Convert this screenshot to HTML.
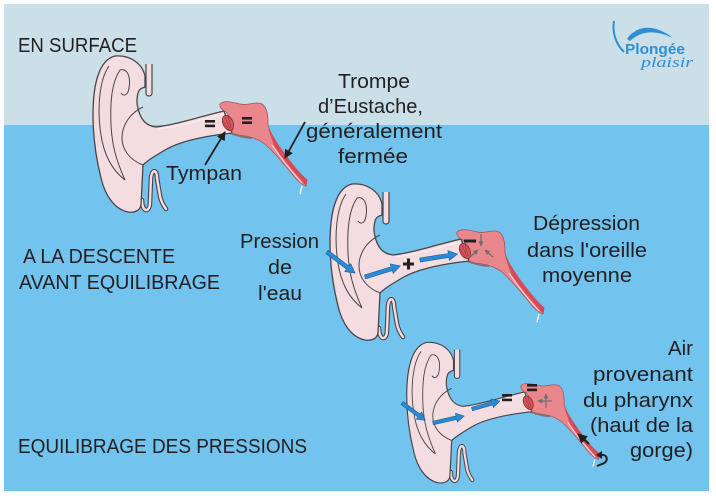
<!DOCTYPE html>
<html>
<head>
<meta charset="utf-8">
<style>
  html,body{margin:0;padding:0;background:#fff;}
  svg{display:block;}
  .t{font-family:"Liberation Sans",Arial,sans-serif;font-size:20px;fill:#231f20;}
</style>
</head>
<body>
<svg width="716" height="498" viewBox="0 0 716 498" xmlns="http://www.w3.org/2000/svg">
  <defs>
    <marker id="ah" viewBox="0 0 10 10" refX="9" refY="5" markerWidth="5" markerHeight="5" orient="auto">
      <path d="M0,0 L10,5 L0,10 Z" fill="#231f20"/>
    </marker>
    <marker id="ahg" viewBox="0 0 10 10" refX="9" refY="5" markerWidth="4" markerHeight="4" orient="auto">
      <path d="M0,0 L10,5 L0,10 Z" fill="#6d6d6d"/>
    </marker>
    <g id="ear">
      <!-- lower hook -->
      <path d="M142,200 C142,213 150,213 150,202 L151,178 C152,169 157,169 157,178 L160,196 C161,201 163,205 166,209" fill="none" stroke="#4a4446" stroke-width="4.6" stroke-linecap="round"/>
      <path d="M142,200 C142,213 150,213 150,202 L151,178 C152,169 157,169 157,178 L160,196 C161,201 163,205 166,209" fill="none" stroke="#f3dde0" stroke-width="2.4" stroke-linecap="round"/>
      <!-- top strip -->
      <path d="M146,64 L146,93 C146,97 152,97 152,93 L152,64" fill="#f3dde0" stroke="#4a4446" stroke-width="1.2"/>
      <!-- canal extension line -->
      <path d="M230,133 C238,136 245,138 252,138" fill="none" stroke="#777" stroke-width="2"/>
      <!-- auricle + canal -->
      <path d="M115,56 C130,55 142,63 145,76 L145,87 C142,88 139,89 138,93 C136,100 137,106 139,112 C142,121 147,126 156,127 C175,125 198,117 224,111 L232,133 C205,136 180,141 165,150 C155,156 148,160 143,165 L141,205 C140,211 134,213 128,212 C114,209 105,195 101,178 C97,162 93,140 93,115 C93,84 99,60 115,56 Z" fill="#f3dde0" stroke="#4a4446" stroke-width="1.3"/>
      <!-- canal inner light line -->
      <path d="M158,129 C178,127 200,120 224,114" fill="none" stroke="#fbeff1" stroke-width="1"/>
      <!-- inner lines -->
      <path d="M109,66 C99,80 97,110 101,135 C104,155 112,170 125,180 C116,160 112,145 111,125 C110,100 112,82 120,70" fill="none" stroke="#4a4446" stroke-width="1"/>
      <path d="M120,70 C127,68 131,76 129,88 C128,95 124,97 121,93" fill="none" stroke="#4a4446" stroke-width="1"/>
      <path d="M143,107 C130,113 122,125 122,138 C122,150 130,160 143,165" fill="none" stroke="#4a4446" stroke-width="1"/>
      <!-- middle ear -->
      <path d="M220,104 C224,100 232,102 240,104 C248,106 255,101 262,104 C268,108 268,118 268,125 C270,133 276,142 283,152 C290,162 298,172 307,180 L306,186 C300,184 295,178 289,170 C282,162 274,152 266,145 C258,138 248,136 238,135 L232,133 C233,125 230,117 226,112 C222,110 219,107 220,104 Z" fill="#e9878d" stroke="#a9525a" stroke-width="0.8"/>
      <path d="M268,128 C274,140 284,153 292,163 C298,171 303,176 307,180 L306,186 C302,181 298,177 294,172 C288,165 280,155 274,146 Z" fill="#d94a55"/>
      <path d="M272,145 C280,157 290,170 302,183" fill="none" stroke="#f7e6e8" stroke-width="0.9"/>
      <path d="M302,186 L300,194" stroke="#ffffff" stroke-width="1.5"/>
      <!-- tympan -->
      <ellipse cx="228" cy="123" rx="5" ry="8" transform="rotate(-25 228 123)" fill="#d9555f" stroke="#7a2a30" stroke-width="0.8"/>
      <path d="M225,117 L230,129 M228,116 L231,128 M223,121 L229,130" stroke="#7a2a30" stroke-width="0.5"/>
    </g>
  </defs>

  <!-- backgrounds -->
  <rect x="4" y="4" width="705" height="121" fill="#cbdfe9"/>
  <rect x="4" y="125" width="705" height="366" fill="#72c3ee"/>

  <!-- logo -->
  <path d="M614,21 C612,33 616,44 624,52" fill="none" stroke="#2f8fd6" stroke-width="2"/>
  <path d="M627,39 C634,28 651,21 673,38 C656,30 642,30 630,41 Z" fill="#2f8fd6"/>
  <text x="625" y="54" font-family="Liberation Sans,Arial,sans-serif" font-weight="bold" font-size="15" fill="#2f8fd6" textLength="60" lengthAdjust="spacingAndGlyphs">Plongée</text>
  <text x="641" y="67" font-family="Liberation Serif,serif" font-style="italic" font-size="15" fill="#2f8fd6" textLength="52" lengthAdjust="spacingAndGlyphs">plaisir</text>

  <!-- ears -->
  <use href="#ear"/>
  <use href="#ear" transform="translate(237,128)"/>
  <use href="#ear" transform="translate(323,292) scale(0.9)"/>

  <!-- ear 1 marks -->
  <rect x="205" y="120" width="10" height="2.6" fill="#231f20"/>
  <rect x="205" y="124.6" width="10" height="2.6" fill="#231f20"/>
  <rect x="242" y="117" width="10" height="2.6" fill="#231f20"/>
  <rect x="242" y="121.4" width="10" height="2.6" fill="#231f20"/>
  <line x1="205" y1="165" x2="225" y2="132" stroke="#231f20" stroke-width="1.8" marker-end="url(#ah)"/>
  <line x1="305" y1="122" x2="285" y2="158" stroke="#231f20" stroke-width="1.8" marker-end="url(#ah)"/>

  <!-- ear 2 marks -->
  <g fill="#2a8ad6" stroke="#1a5f9a" stroke-width="0.6">
    <path transform="translate(327,252) rotate(36.9)" d="M0,-2 L26,-2 L26,-5 L35,0 L26,5 L26,2 L0,2Z"/>
    <path transform="translate(365,277) rotate(-17.4)" d="M0,-2 L28,-2 L28,-5 L37,0 L28,5 L28,2 L0,2Z"/>
    <path transform="translate(420,260) rotate(-9)" d="M0,-2 L29,-2 L29,-5 L38,0 L29,5 L29,2 L0,2Z"/>
  </g>
  <rect x="403" y="262.5" width="11" height="3" fill="#231f20"/>
  <rect x="407" y="258.5" width="3" height="11" fill="#231f20"/>
  <rect x="464" y="239.5" width="12" height="3" fill="#231f20"/>
  <g stroke="#6d6d6d" stroke-width="1.3" fill="none">
    <line x1="481" y1="234" x2="481" y2="246" marker-end="url(#ahg)"/>
    <line x1="493" y1="257" x2="485" y2="250" marker-end="url(#ahg)"/>
    <line x1="470" y1="257" x2="478" y2="250" marker-end="url(#ahg)"/>
  </g>

  <!-- ear 3 marks -->
  <g fill="#2a8ad6" stroke="#1a5f9a" stroke-width="0.6">
    <path transform="translate(402,403) rotate(36.5)" d="M0,-1.8 L21,-1.8 L21,-4.5 L29,0 L21,4.5 L21,1.8 L0,1.8Z"/>
    <path transform="translate(433,423) rotate(-12.7)" d="M0,-1.8 L24,-1.8 L24,-4.5 L32,0 L24,4.5 L24,1.8 L0,1.8Z"/>
    <path transform="translate(472,409) rotate(-16)" d="M0,-1.8 L21,-1.8 L21,-4.5 L29,0 L21,4.5 L21,1.8 L0,1.8Z"/>
  </g>
  <rect x="502" y="394" width="10" height="2.6" fill="#231f20"/>
  <rect x="502" y="398.6" width="10" height="2.6" fill="#231f20"/>
  <rect x="527" y="384" width="10" height="2.6" fill="#231f20"/>
  <rect x="527" y="388.6" width="10" height="2.6" fill="#231f20"/>
  <g stroke="#6d6d6d" stroke-width="1.2" fill="none">
    <line x1="552" y1="401" x2="538" y2="401" marker-end="url(#ahg)"/>
    <line x1="546" y1="408" x2="546" y2="394" marker-end="url(#ahg)"/>
  </g>
  <line x1="589" y1="444" x2="578" y2="434" stroke="#231f20" stroke-width="2" marker-end="url(#ah)"/>
  <path d="M601,455 C608,454 609,462 602,464 L597,466" fill="none" stroke="#231f20" stroke-width="2"/>
  <path d="M596,455 L602,451 L602,459 Z" fill="#231f20"/>

  <!-- texts -->
  <text class="t" x="18" y="52" textLength="119" lengthAdjust="spacingAndGlyphs">EN SURFACE</text>
  <text class="t" x="23" y="263" textLength="152" lengthAdjust="spacingAndGlyphs">A LA DESCENTE</text>
  <text class="t" x="19" y="289" textLength="201" lengthAdjust="spacingAndGlyphs">AVANT EQUILIBRAGE</text>
  <text class="t" x="18" y="453" textLength="289" lengthAdjust="spacingAndGlyphs">EQUILIBRAGE DES PRESSIONS</text>

  <text class="t" x="338" y="88" textLength="72" lengthAdjust="spacingAndGlyphs">Trompe</text>
  <text class="t" x="318" y="113" textLength="105" lengthAdjust="spacingAndGlyphs">d’Eustache,</text>
  <text class="t" x="306" y="138" textLength="136" lengthAdjust="spacingAndGlyphs">généralement</text>
  <text class="t" x="338" y="163" textLength="70" lengthAdjust="spacingAndGlyphs">fermée</text>
  <text class="t" x="166" y="180" textLength="76" lengthAdjust="spacingAndGlyphs">Tympan</text>

  <text class="t" x="240" y="248" textLength="79" lengthAdjust="spacingAndGlyphs">Pression</text>
  <text class="t" x="268" y="274" textLength="24" lengthAdjust="spacingAndGlyphs">de</text>
  <text class="t" x="258" y="300" textLength="44" lengthAdjust="spacingAndGlyphs">l'eau</text>

  <text class="t" x="533" y="230" textLength="107" lengthAdjust="spacingAndGlyphs">Dépression</text>
  <text class="t" x="527" y="257" textLength="120" lengthAdjust="spacingAndGlyphs">dans l'oreille</text>
  <text class="t" x="542" y="282" textLength="90" lengthAdjust="spacingAndGlyphs">moyenne</text>

  <text class="t" x="668" y="355" textLength="25" lengthAdjust="spacingAndGlyphs">Air</text>
  <text class="t" x="593" y="381" textLength="100" lengthAdjust="spacingAndGlyphs">provenant</text>
  <text class="t" x="583" y="407" textLength="110" lengthAdjust="spacingAndGlyphs">du pharynx</text>
  <text class="t" x="590" y="432" textLength="103" lengthAdjust="spacingAndGlyphs">(haut de la</text>
  <text class="t" x="630" y="457" textLength="63" lengthAdjust="spacingAndGlyphs">gorge)</text>
</svg>
</body>
</html>
